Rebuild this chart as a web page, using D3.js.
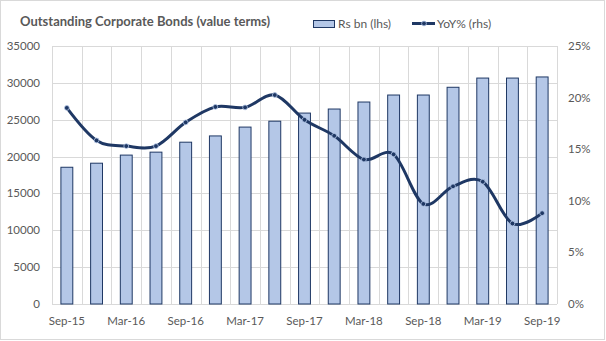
<!DOCTYPE html>
<html>
<head>
<meta charset="utf-8">
<script src="https://cdn.jsdelivr.net/npm/d3@7"></script>
<style>
  html, body { margin: 0; padding: 0; background: #ffffff; }
  svg { display: block; }
</style>
</head>
<body>
<svg id="chart" width="606" height="341"></svg>
<script>
const categories = ["Sep-15","Dec-15","Mar-16","Jun-16","Sep-16","Dec-16","Mar-17","Jun-17","Sep-17","Dec-17","Mar-18","Jun-18","Sep-18","Dec-18","Mar-19","Jun-19","Sep-19"];
const bondValues = [18550, 19100, 20200, 20600, 21950, 22800, 24000, 24800, 25900, 26450, 27400, 28350, 28350, 29400, 30650, 30650, 30800];
const yoyValues = [19.0, 15.85, 15.3, 15.3, 17.6, 19.1, 19.05, 20.25, 17.85, 16.3, 14.0, 14.5, 9.7, 11.4, 11.85, 7.8, 8.8];
const leftTicks = [0, 5000, 10000, 15000, 20000, 25000, 30000, 35000];
const rightTicks = [0, 5, 10, 15, 20, 25];
const xTickLabels = ["Sep-15","Mar-16","Sep-16","Mar-17","Sep-17","Mar-18","Sep-18","Mar-19","Sep-19"];
const title = "Outstanding Corporate Bonds (value terms)";
const seriesNames = ["Rs bn (lhs)", "YoY% (rhs)"];

const svg = d3.select("#chart");
const W = 606, H = 341;
const m = {left: 52, right: 49, top: 46, bottom: 37};
const pw = W - m.left - m.right, ph = H - m.top - m.bottom;
const font = "Lato, 'Open Sans', sans-serif";
const txt = "#595959", grid = "#D9D9D9", navy = "#1F3864", barFill = "#B4C7E7";

svg.append("rect").attr("x", 0.5).attr("y", 0.5).attr("width", W - 2).attr("height", H - 2)
  .attr("fill", "#fff").attr("stroke", grid);

const g = svg.append("g").attr("transform", `translate(${m.left},${m.top})`);

const x = d3.scaleBand().domain(categories).range([0, pw]).padding(0);
const yL = d3.scaleLinear().domain([0, 35000]).range([ph, 0]);
const yR = d3.scaleLinear().domain([0, 25]).range([ph, 0]);

// horizontal gridlines
g.selectAll(".hg").data(leftTicks).enter().append("line")
  .attr("x1", 0).attr("x2", pw)
  .attr("y1", d => Math.round(yL(d)) + 0.5).attr("y2", d => Math.round(yL(d)) + 0.5)
  .attr("stroke", grid).attr("stroke-width", 1);
// vertical gridlines at category boundaries
const bounds = categories.map(c => x(c)).concat([pw]);
g.selectAll(".vg").data(bounds).enter().append("line")
  .attr("x1", d => Math.round(d) + 0.5).attr("x2", d => Math.round(d) + 0.5)
  .attr("y1", 0).attr("y2", ph)
  .attr("stroke", grid).attr("stroke-width", 1);

// bars
const bw = x.bandwidth() * 0.4;
g.selectAll(".bar").data(bondValues).enter().append("rect")
  .attr("x", (d, i) => x(categories[i]) + x.bandwidth() / 2 - bw / 2)
  .attr("y", d => yL(d))
  .attr("width", bw)
  .attr("height", d => ph - yL(d))
  .attr("fill", barFill).attr("stroke", navy).attr("stroke-width", 1);

// line
const line = d3.line()
  .x((d, i) => x(categories[i]) + x.bandwidth() / 2)
  .y(d => yR(d))
  .curve(d3.curveCardinal.tension(0));
g.append("path").datum(yoyValues).attr("d", line)
  .attr("fill", "none").attr("stroke", navy).attr("stroke-width", 3)
  .attr("stroke-linecap", "round");
g.selectAll(".mk").data(yoyValues).enter().append("circle")
  .attr("cx", (d, i) => x(categories[i]) + x.bandwidth() / 2)
  .attr("cy", d => yR(d))
  .attr("r", 2.4)
  .attr("fill", navy).attr("stroke", barFill).attr("stroke-width", 0.8);

// left axis labels
g.selectAll(".lt").data(leftTicks).enter().append("text")
  .attr("x", -12).attr("y", d => yL(d)).attr("dy", "0.35em")
  .attr("text-anchor", "end").attr("fill", txt)
  .style("font-family", font).style("font-size", "11.5px")
  .text(d => d);
// right axis labels
g.selectAll(".rt").data(rightTicks).enter().append("text")
  .attr("x", pw + 11).attr("y", d => yR(d)).attr("dy", "0.35em")
  .attr("text-anchor", "start").attr("fill", txt)
  .style("font-family", font).style("font-size", "11.5px")
  .text(d => d + "%");
// x labels
g.selectAll(".xt").data(xTickLabels).enter().append("text")
  .attr("x", d => x(d) + x.bandwidth() / 2).attr("y", ph + 21)
  .attr("text-anchor", "middle").attr("fill", txt)
  .style("font-family", font).style("font-size", "11.5px")
  .text(d => d);

// title
svg.append("text").attr("x", 20).attr("y", 26)
  .attr("fill", txt).style("font-family", font).style("font-size", "13px").style("font-weight", "bold")
  .text(title);

// legend
const lg = svg.append("g");
lg.append("rect").attr("x", 313.5).attr("y", 20.5).attr("width", 21).attr("height", 7)
  .attr("fill", barFill).attr("stroke", navy).attr("stroke-width", 1);
lg.append("text").attr("x", 338).attr("y", 28).attr("fill", txt)
  .style("font-family", font).style("font-size", "12px").text(seriesNames[0]);
lg.append("line").attr("x1", 412).attr("x2", 435).attr("y1", 23.5).attr("y2", 23.5)
  .attr("stroke", navy).attr("stroke-width", 3);
lg.append("circle").attr("cx", 424).attr("cy", 23.5).attr("r", 2.4)
  .attr("fill", navy).attr("stroke", barFill).attr("stroke-width", 0.8);
lg.append("text").attr("x", 437).attr("y", 28).attr("fill", txt)
  .style("font-family", font).style("font-size", "12px").text(seriesNames[1]);
</script>
</body>
</html>
